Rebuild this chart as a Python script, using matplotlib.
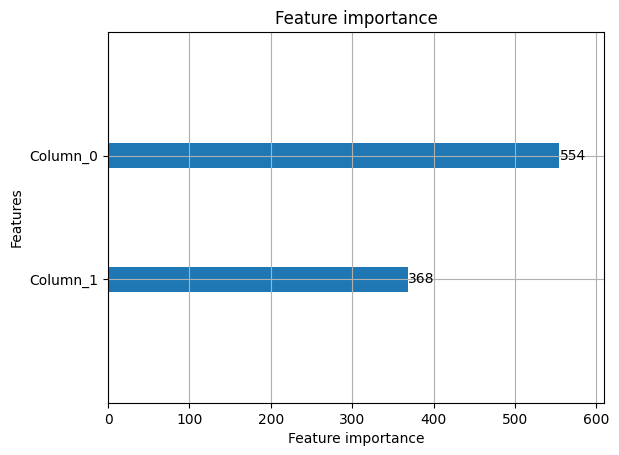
import numpy as np
import matplotlib
matplotlib.use("Agg")
import matplotlib.pyplot as plt

# feature importance values (lowest first, plotted bottom to top)
features = ["Column_1", "Column_0"]
importance = [368, 554]

fig, ax = plt.subplots(figsize=(6.19, 4.55), dpi=100)
fig.subplots_adjust(left=0.1745, right=0.9758, top=0.9297, bottom=0.1143)

ylocs = np.arange(len(features))
ax.barh(ylocs, importance, align="center", height=0.2)
for x, y in zip(importance, ylocs):
    ax.text(x + 1, y, str(x), va="center")

ax.set_yticks(ylocs)
ax.set_yticklabels(features)
ax.set_xlim(0, max(importance) * 1.1)
ax.set_ylim(-1, len(features))
ax.set_title("Feature importance")
ax.set_xlabel("Feature importance")
ax.set_ylabel("Features")
ax.grid(True)

fig.savefig("out.png", dpi=100)
